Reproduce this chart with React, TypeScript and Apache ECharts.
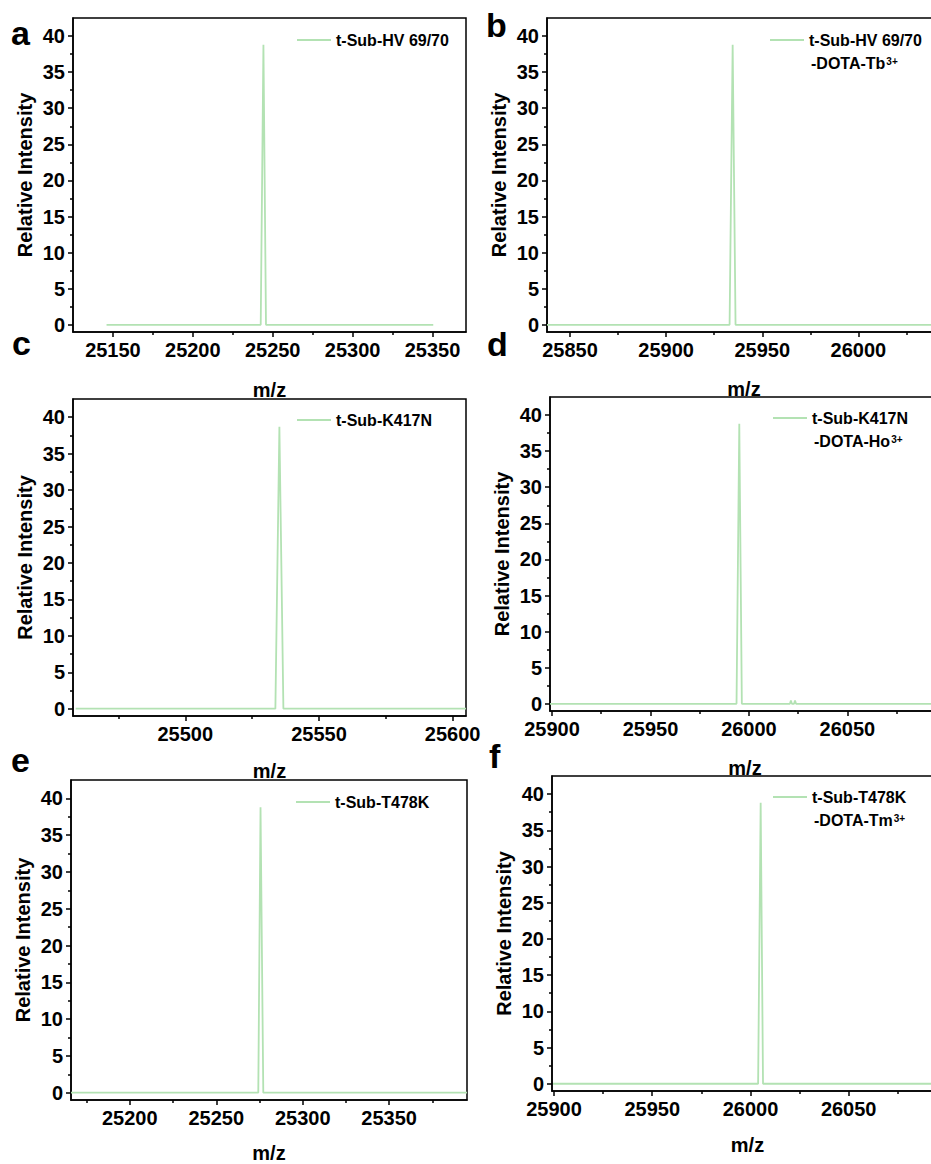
import React, { useEffect, useRef } from 'react';
import * as echarts from 'echarts';

// ---- data ----
const yMajor = [0, 5, 10, 15, 20, 25, 30, 35, 40];
const yMinor = [2.5, 7.5, 12.5, 17.5, 22.5, 27.5, 32.5, 37.5];

const nameA = 't-Sub-HV 69/70';
const nameB = 't-Sub-HV 69/70 ';
const nameC = 't-Sub-K417N';
const nameD = 't-Sub-K417N ';
const nameE = 't-Sub-T478K';
const nameF = 't-Sub-T478K ';
const ionB = 'Tb';
const ionD = 'Ho';
const ionF = 'Tm';

const mzA = [25146, 25242.5, 25244.2, 25245.8, 25350.5];
const intA = [0, 0, 38.8, 0, 0];
const mzB = [25838, 25933, 25934.6, 25936.1, 26043];
const intB = [0, 0, 38.8, 0, 0];
const mzC = [25459, 25533.7, 25535.2, 25536.7, 25605];
const intC = [0, 0, 38.7, 0, 0];
const mzD = [25899, 25993.7, 25995.1, 25996.4, 26020.8, 26021.3, 26021.8, 26022.9, 26023.4, 26023.9, 26097];
const intD = [0, 0, 38.8, 0, 0, 0.45, 0, 0, 0.45, 0, 0];
const mzE = [25166, 25274.3, 25275.6, 25277.2, 25395];
const intE = [0, 0, 38.8, 0, 0];
const mzF = [25899.5, 26003.9, 26005.2, 26006.4, 26098];
const intF = [0, 0, 38.8, 0, 0];

const xMajorA = [25150, 25200, 25250, 25300, 25350];
const xMinorA = [25175, 25225, 25275, 25325];
const xMajorB = [25850, 25900, 25950, 26000];
const xMinorB = [25875, 25925, 25975, 26025];
const xMajorC = [25500, 25550, 25600];
const xMinorC = [25475, 25525, 25575];
const xMajorD = [25900, 25950, 26000, 26050];
const xMinorD = [25925, 25975, 26025, 26075];
const xMajorE = [25200, 25250, 25300, 25350];
const xMinorE = [25175, 25225, 25275, 25325, 25375];
const xMajorF = [25900, 25950, 26000, 26050];
const xMinorF = [25925, 25975, 26025, 26075];

// ---- layout / style ----
const FONT = '"Liberation Sans", Arial, Helvetica, sans-serif';
const LINE = '#b3e2b3';
const INK = '#000';
const Y_MIN = -1;
const Y_MAX = 42.5;

type Panel = {
  letter: string; lx: number; ly: number;
  left: number; top: number; width: number; height: number;
  xMin: number; xMax: number;
  xMajor: number[]; xMinor: number[];
  mz: number[]; val: number[]; name: string; ion?: string;
  legLeft: number; legIconY: number; xNameGap: number;
};

const panels: Panel[] = [
  { letter: 'a', lx: 11, ly: 16, left: 73, top: 18, width: 393, height: 314, xMin: 25125, xMax: 25371,
    xMajor: xMajorA, xMinor: xMinorA, mz: mzA, val: intA, name: nameA, legLeft: 297, legIconY: 40, xNameGap: 48 },
  { letter: 'b', lx: 486, ly: 8, left: 547, top: 18, width: 394, height: 314, xMin: 25838, xMax: 26043,
    xMajor: xMajorB, xMinor: xMinorB, mz: mzB, val: intB, name: nameB, ion: ionB, legLeft: 770, legIconY: 40, xNameGap: 47 },
  { letter: 'c', lx: 12, ly: 326, left: 73, top: 399, width: 393, height: 317, xMin: 25458, xMax: 25605,
    xMajor: xMajorC, xMinor: xMinorC, mz: mzC, val: intC, name: nameC, legLeft: 297, legIconY: 420, xNameGap: 45 },
  { letter: 'd', lx: 487, ly: 327, left: 550, top: 397, width: 390, height: 314, xMin: 25899, xMax: 26097,
    xMajor: xMajorD, xMinor: xMinorD, mz: mzD, val: intD, name: nameD, ion: ionD, legLeft: 773, legIconY: 418, xNameGap: 47 },
  { letter: 'e', lx: 11, ly: 743, left: 71, top: 780, width: 396, height: 320, xMin: 25166, xMax: 25395,
    xMajor: xMajorE, xMinor: xMinorE, mz: mzE, val: intE, name: nameE, legLeft: 296, legIconY: 802, xNameGap: 43 },
  { letter: 'f', lx: 489, ly: 739, left: 552, top: 776, width: 391, height: 315, xMin: 25899, xMax: 26098,
    xMajor: xMajorF, xMinor: xMinorF, mz: mzF, val: intF, name: nameF, ion: ionF, legLeft: 773, legIconY: 797, xNameGap: 44 },
];

function buildMainOption() {
  const grid: any[] = [];
  const xAxis: any[] = [];
  const yAxis: any[] = [];
  const series: any[] = [];
  const legend: any[] = [];
  const lab = () => ({ color: INK, fontFamily: FONT, fontWeight: 'bold', fontSize: 20 });
  const ln = () => ({ show: true, onZero: false, lineStyle: { color: INK, width: 1.5 } });
  const tk = (vals: number[], len: number) => ({ show: true, length: len, customValues: vals, lineStyle: { color: INK, width: 1.5 } });

  panels.forEach((p, i) => {
    grid.push({ left: p.left, top: p.top, width: p.width, height: p.height, show: true, borderColor: INK, borderWidth: 1.5 });
    const xi = xAxis.length;
    const yi = yAxis.length;
    xAxis.push({
      type: 'value', gridIndex: i, min: p.xMin, max: p.xMax, position: 'bottom',
      name: 'm/z', nameLocation: 'middle', nameGap: p.xNameGap, nameTextStyle: lab(),
      axisLine: ln(), splitLine: { show: false }, axisTick: tk(p.xMajor, 5),
      axisLabel: { customValues: p.xMajor, formatter: (v: number) => String(v), ...lab() },
    });
    yAxis.push({
      type: 'value', gridIndex: i, min: Y_MIN, max: Y_MAX, position: 'left',
      name: 'Relative Intensity', nameLocation: 'middle', nameGap: 38, nameTextStyle: lab(),
      axisLine: ln(), splitLine: { show: false }, axisTick: tk(yMajor, 5),
      axisLabel: { customValues: yMajor, formatter: (v: number) => String(v), ...lab() },
    });
    xAxis.push({
      type: 'value', gridIndex: i, min: p.xMin, max: p.xMax, position: 'bottom',
      axisLine: { show: false, onZero: false }, axisLabel: { show: false }, splitLine: { show: false },
      axisTick: tk(p.xMinor, 3),
    });
    yAxis.push({
      type: 'value', gridIndex: i, min: Y_MIN, max: Y_MAX, position: 'left',
      axisLine: { show: false, onZero: false }, axisLabel: { show: false }, splitLine: { show: false },
      axisTick: tk(yMinor, 3),
    });
    series.push({
      type: 'line', name: p.name, xAxisIndex: xi, yAxisIndex: yi,
      data: p.mz.map((m, k) => [m, p.val[k]]),
      symbol: 'none', lineStyle: { color: LINE, width: 1.8 }, itemStyle: { color: LINE },
    });
    legend.push({
      data: [p.name], left: p.legLeft, top: p.legIconY - 9, padding: 0, selectedMode: false,
      itemWidth: 34, itemHeight: 2, icon: 'rect', itemStyle: { color: LINE },
      textStyle: { color: INK, fontFamily: FONT, fontWeight: 'bold', fontSize: 16, lineHeight: 18 },
    });
  });

  return { animation: false, grid, xAxis, yAxis, series, legend };
}

function buildOverlayOption() {
  const title: any[] = [];
  panels.forEach((p) => {
    if (p.ion) {
      title.push({
        text: `{n|-DOTA-${p.ion}}{s|3+}`, left: p.legLeft + 41, top: p.legIconY + 23 - 9, padding: 0,
        textStyle: {
          rich: {
            n: { color: INK, fontFamily: FONT, fontWeight: 'bold', fontSize: 16, lineHeight: 18 },
            s: { color: INK, fontFamily: FONT, fontWeight: 'bold', fontSize: 10, lineHeight: 10, verticalAlign: 'top', padding: [2, 0, 0, 1] },
          },
        },
      });
    }
    title.push({
      text: p.letter, left: p.lx, top: p.ly, padding: 0,
      textStyle: { color: INK, fontFamily: FONT, fontWeight: 'bold', fontSize: 34, lineHeight: 34 },
    });
  });
  return { animation: false, backgroundColor: 'transparent', title };
}

export default function App() {
  const mainRef = useRef<HTMLDivElement>(null);
  const overRef = useRef<HTMLDivElement>(null);
  useEffect(() => {
    if (!mainRef.current || !overRef.current) return;
    const main = echarts.init(mainRef.current, undefined, { renderer: 'svg' });
    main.setOption(buildMainOption() as any);
    const over = echarts.init(overRef.current, undefined, { renderer: 'svg' });
    over.setOption(buildOverlayOption() as any);
    return () => {
      main.dispose();
      over.dispose();
    };
  }, []);
  return (
    <div style={{ position: 'absolute', left: 0, top: 0, width: 931, height: 1164, overflow: 'hidden', background: '#fff' }}>
      <div ref={mainRef} style={{ position: 'absolute', left: 0, top: 0, width: 960, height: 1164 }} />
      <div ref={overRef} style={{ position: 'absolute', left: 0, top: 0, width: 931, height: 1164, pointerEvents: 'none' }} />
    </div>
  );
}
